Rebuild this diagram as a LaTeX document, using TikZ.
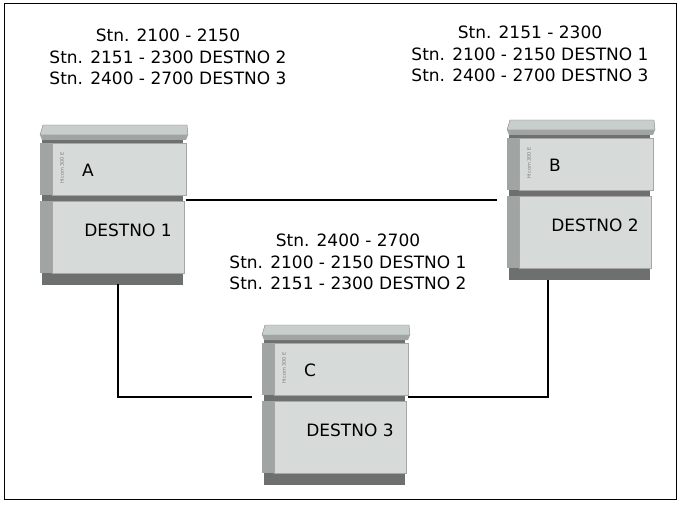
\documentclass[tikz,border=0pt]{standalone}
\usepackage{fontspec}
\setmainfont{DejaVu Sans}
\usetikzlibrary{positioning}
\definecolor{lidgray}{RGB}{200,206,204}
\definecolor{frontgray}{RGB}{214,218,216}
\definecolor{sidegray}{RGB}{160,164,162}
\definecolor{darkgray}{RGB}{110,112,112}
\tikzset{
  label text/.style={font=\fontsize{17}{21.5}\selectfont, align=center},
  unit text/.style={font=\fontsize{17}{20}\selectfont},
  link/.style={line width=1.5pt}
}
% cabinet with lid top-left corner at #1, name #2, letter #3, caption #4
\newcommand{\cabinet}[4]{
  \begin{scope}[shift={#1}]
    \fill[darkgray] (2,14) rectangle (143,160);
    \fill[lidgray, draw=gray] (3,0) -- (147,0) -- (148,10) -- (0,10) -- cycle;
    \fill[sidegray] (0,10) -- (148,10) -- (146,15) -- (2,15) -- cycle;
    \fill[sidegray] (0,18) rectangle (12,70);
    \fill[frontgray, draw=gray!70] (12,18) rectangle (146,70);
    \fill[sidegray] (0,76) rectangle (12,148);
    \fill[frontgray, draw=gray!70] (12,76) rectangle (144,148);
    \node[rotate=90, font=\tiny, text=gray] at (22,43) {Hicom 300 E};
    \node[unit text] (#2) at (48,45) {#3};
    \node[unit text] (#2cap) at (88,105) {#4};
  \end{scope}
}
\begin{document}
\begin{tikzpicture}[x=1pt, y=-1pt]
\useasboundingbox (0,0) rectangle (689,519);
\draw[line width=1pt] (4,4) rectangle (676,499);

\cabinet{(40,125)}{a}{A}{DESTNO 1}
\cabinet{(507,120)}{b}{B}{DESTNO 2}
\cabinet{(262,325)}{c}{C}{DESTNO 3}

\node[label text] (texta) at (168,57) {Stn. 2100 - 2150\\Stn. 2151 - 2300 DESTNO 2\\Stn. 2400 - 2700 DESTNO 3};
\node[label text] (textb) at (530,54) {Stn. 2151 - 2300\\Stn. 2100 - 2150 DESTNO 1\\Stn. 2400 - 2700 DESTNO 3};
\node[label text] (textc) at (348,262) {Stn. 2400 - 2700\\Stn. 2100 - 2150 DESTNO 1\\Stn. 2151 - 2300 DESTNO 2};

\coordinate (ab1) at (186,200);
\coordinate (ab2) at (497,200);
\coordinate (ad) at (118,284);
\coordinate (ac) at (252,397);
\coordinate (bd) at (548,280);
\coordinate (bc) at (408,397);
\draw[link] (ab1) -- (ab2);
\draw[link] (ad) |- (ac);
\draw[link] (bd) |- (bc);
\end{tikzpicture}
\end{document}
